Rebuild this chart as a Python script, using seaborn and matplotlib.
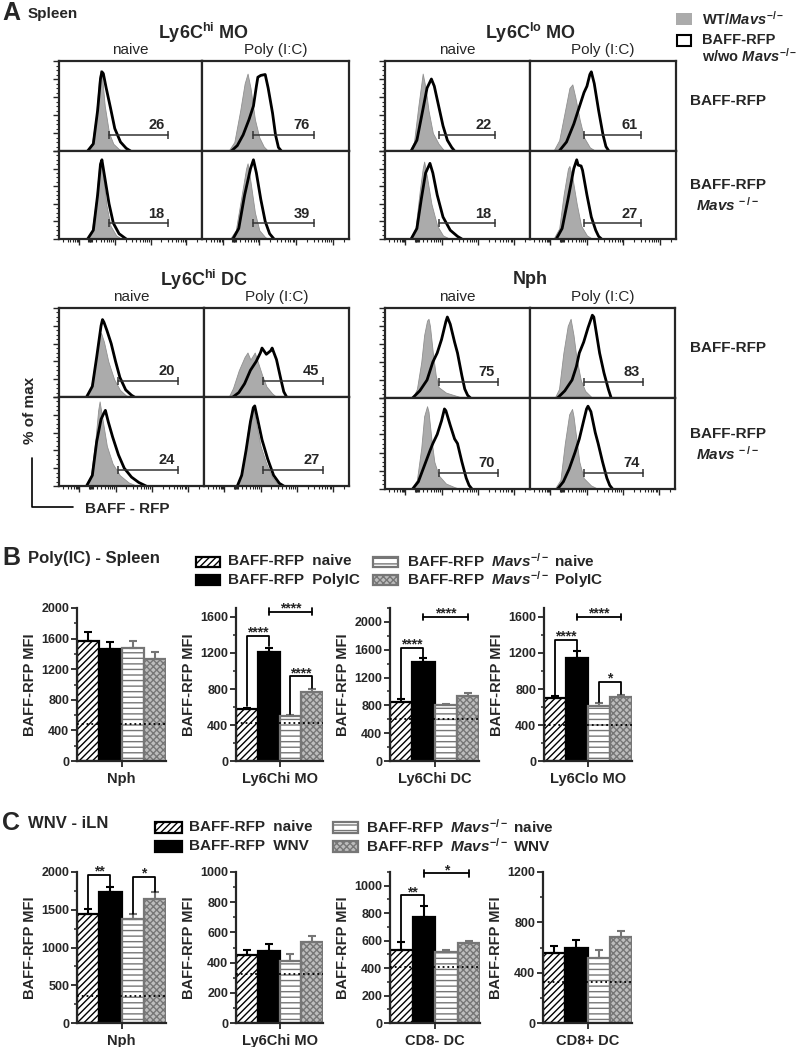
import numpy as np
import pandas as pd
import seaborn as sns
import matplotlib.pyplot as plt
from matplotlib.patches import Rectangle
from matplotlib.ticker import MultipleLocator

sns.set_style('ticks')
plt.rcParams['font.family'] = ['Liberation Sans', 'DejaVu Sans']
plt.rcParams['font.weight'] = 'bold'
plt.rcParams['axes.labelweight'] = 'bold'
plt.rcParams['mathtext.fontset'] = 'custom'
plt.rcParams['mathtext.rm'] = 'Liberation Sans:bold'
plt.rcParams['mathtext.it'] = 'Liberation Sans:italic:bold'
plt.rcParams['mathtext.bf'] = 'Liberation Sans:bold'
plt.rcParams['hatch.linewidth'] = 1.0

# ---------------- panel A: histogram outlines (x %, y % of max) ----------------
# order in each list: BAFF-RFP naive, BAFF-RFP Poly(I:C), Mavs-/- naive, Mavs-/- Poly(I:C)
HI_MO_GRAY = [
    [(19, 0), (23, 8), (26, 40), (28, 80), (29, 90), (30, 85), (32, 50), (35, 20), (38, 8), (42, 2), (45, 0)],
    [(18, 0), (22, 10), (26, 45), (29, 75), (31, 86), (33, 70), (36, 35), (39, 15), (42, 5), (45, 0)],
    [(19, 0), (23, 10), (26, 45), (28, 82), (29, 90), (31, 70), (33, 40), (36, 15), (40, 4), (44, 0)],
    [(19, 0), (23, 10), (27, 50), (30, 80), (31, 86), (33, 65), (36, 30), (39, 10), (43, 2), (46, 0)],
]
HI_MO_LINE = [
    [(20, 0), (24, 8), (27, 45), (29, 80), (30, 88), (31, 86), (33, 70), (36, 48), (39, 25), (43, 10), (47, 3), (50, 0)],
    [(20, 0), (24, 6), (28, 18), (32, 35), (35, 50), (37, 72), (38, 82), (40, 84), (43, 85), (45, 70), (48, 42), (50, 18), (52, 4), (54, 0)],
    [(20, 0), (24, 10), (27, 50), (29, 85), (30, 90), (32, 70), (35, 40), (38, 18), (42, 6), (47, 0)],
    [(21, 0), (25, 12), (29, 50), (33, 80), (35, 90), (37, 75), (40, 45), (43, 20), (46, 6), (49, 0)],
]
HI_MO_PCT = [26, 76, 18, 39]

LO_MO_GRAY = [
    [(17, 0), (20, 10), (23, 50), (26, 86), (28, 70), (30, 45), (33, 20), (37, 8), (41, 0)],
    [(16, 0), (20, 12), (24, 45), (27, 70), (29, 74), (31, 60), (34, 35), (37, 15), (41, 4), (45, 0)],
    [(17, 0), (21, 12), (24, 55), (26, 80), (27, 88), (29, 70), (32, 40), (36, 15), (40, 4), (45, 0)],
    [(16, 0), (20, 12), (23, 50), (26, 80), (27, 83), (29, 70), (32, 40), (35, 15), (39, 4), (43, 0)],
]
LO_MO_LINE = [
    [(18, 0), (22, 12), (26, 45), (29, 70), (32, 80), (34, 72), (37, 50), (40, 28), (43, 12), (46, 4), (48, 0)],
    [(20, 0), (25, 10), (30, 30), (34, 50), (37, 65), (39, 72), (41, 85), (42, 88), (44, 75), (47, 45), (50, 18), (52, 5), (54, 0)],
    [(18, 0), (22, 12), (25, 45), (28, 75), (31, 86), (33, 75), (36, 50), (40, 25), (45, 10), (50, 3), (53, 0)],
    [(18, 0), (22, 12), (26, 45), (30, 80), (32, 90), (33, 84), (35, 83), (36, 78), (39, 50), (42, 25), (45, 10), (47, 3), (49, 0)],
]
LO_MO_PCT = [22, 61, 18, 27]

HI_DC_GRAY = [
    [(18, 0), (22, 10), (25, 40), (28, 68), (29, 72), (31, 62), (34, 40), (38, 20), (42, 8), (46, 2), (49, 0)],
    [(17, 0), (20, 10), (24, 30), (28, 45), (30, 50), (32, 42), (35, 50), (37, 40), (40, 25), (43, 12), (47, 4), (50, 0)],
    [(18, 0), (22, 12), (25, 50), (27, 85), (28, 95), (30, 75), (33, 45), (37, 25), (42, 12), (48, 4), (54, 0)],
    [(22, 0), (25, 10), (28, 35), (31, 70), (33, 85), (34, 88), (36, 70), (39, 45), (43, 25), (47, 10), (52, 0)],
]
HI_DC_LINE = [
    [(19, 0), (23, 12), (26, 45), (29, 80), (30, 87), (31, 84), (33, 75), (36, 60), (39, 40), (42, 22), (46, 8), (50, 2), (52, 0)],
    [(20, 0), (24, 5), (28, 15), (32, 30), (36, 40), (39, 50), (40, 55), (43, 48), (46, 52), (47, 55), (50, 42), (53, 20), (55, 6), (57, 0)],
    [(19, 0), (23, 12), (26, 50), (29, 75), (31, 82), (32, 85), (34, 72), (37, 55), (41, 35), (45, 20), (50, 10), (55, 4), (60, 0)],
    [(23, 0), (26, 12), (29, 40), (32, 72), (34, 88), (35, 90), (37, 75), (40, 52), (44, 30), (48, 12), (52, 3), (55, 0)],
]
HI_DC_PCT = [20, 45, 24, 27]

NPH_GRAY = [
    [(19, 0), (22, 10), (25, 40), (27, 70), (29, 86), (30, 88), (31, 80), (33, 50), (35, 25), (37, 12), (42, 6), (48, 3), (54, 0)],
    [(17, 0), (20, 10), (23, 50), (26, 80), (28, 88), (30, 70), (32, 45), (35, 20), (38, 8), (43, 0)],
    [(18, 0), (22, 10), (25, 45), (27, 80), (29, 91), (30, 85), (32, 55), (34, 30), (37, 15), (42, 6), (48, 2), (52, 0)],
    [(17, 0), (21, 10), (24, 50), (27, 82), (29, 88), (30, 80), (32, 55), (34, 30), (37, 12), (42, 4), (47, 0)],
]
NPH_LINE = [
    [(19, 0), (24, 8), (29, 20), (33, 40), (36, 50), (39, 65), (42, 85), (43, 90), (45, 82), (48, 62), (50, 50), (53, 25), (55, 10), (57, 3), (59, 0)],
    [(19, 0), (24, 8), (29, 20), (32, 35), (34, 50), (37, 62), (40, 78), (43, 92), (44, 90), (46, 70), (48, 50), (51, 28), (54, 10), (56, 0)],
    [(19, 0), (23, 8), (27, 25), (31, 42), (33, 50), (36, 60), (39, 75), (41, 88), (42, 86), (45, 70), (48, 55), (50, 50), (53, 30), (56, 12), (58, 4), (60, 0)],
    [(19, 0), (23, 8), (27, 22), (31, 40), (34, 55), (37, 75), (39, 88), (40, 91), (42, 85), (45, 62), (47, 50), (50, 30), (53, 12), (55, 4), (57, 0)],
]
NPH_PCT = [75, 83, 70, 74]

GATE_START = [35, 37, 41, 37]
GATE_END = [76, 76, 82, 78]
BLOCK_TITLES = [r'Ly6C$^{\mathrm{hi}}$ MO', r'Ly6C$^{\mathrm{lo}}$ MO', r'Ly6C$^{\mathrm{hi}}$ DC', 'Nph']

# ---------------- panel B / C: MFI bars ----------------
GROUPS = ['naive', 'treated', 'Mavs naive', 'Mavs treated']

B_CELLS = ['Nph', 'Ly6Chi MO', 'Ly6Chi DC', 'Ly6Clo MO']
B_MEANS = [[1570, 1465, 1475, 1335], [575, 1215, 500, 765], [855, 1420, 800, 930], [700, 1150, 610, 715]]
B_ERRS = [[115, 90, 95, 90], [15, 45, 15, 30], [30, 55, 20, 50], [20, 70, 30, 15]]
B_BASE = [480, 425, 600, 400]
B_SIGS = [
    [],
    [(0, 1, 1390, 610, 1280, '****'), (1, 3, 1660, None, None, '****'), (2, 3, 940, 525, 810, '****')],
    [(0, 1, 1630, 900, 1490, '****'), (1, 3, 2070, None, None, '****')],
    [(0, 1, 1350, 735, 1235, '****'), (1, 3, 1600, None, None, '****'), (2, 3, 880, 655, 745, '*')],
]

C_CELLS = ['Nph', 'Ly6Chi MO', 'CD8- DC', 'CD8+ DC']
C_MEANS = [[1440, 1735, 1375, 1640], [450, 480, 410, 535], [530, 775, 515, 580], [555, 595, 515, 680]]
C_ERRS = [[70, 65, 65, 95], [35, 40, 45, 40], [60, 75, 20, 15], [55, 65, 65, 50]]
C_BASE = [358, 322, 405, 325]
C_SIGS = [
    [(0, 1, 1960, 1515, 1805, '**'), (2, 3, 1935, 1450, 1740, '*')],
    [],
    [(0, 1, 930, 595, 855, '**'), (1, 3, 1090, None, None, '*')],
    [],
]

BAR_FACE = ['white', 'black', 'white', '#bdbdbd']
BAR_EDGE = ['black', 'black', '#767676', '#767676']
BAR_HATCH = ['/////', None, '---', 'xxxxx']

W, H = 800, 1047
fig = plt.figure(figsize=(8, 10.47), dpi=100)
ov = fig.add_axes([0, 0, 1, 1])
ov.set_xlim(0, W)
ov.set_ylim(H, 0)
ov.axis('off')


def px_axes(l, t, r, b):
    return fig.add_axes([l / W, 1 - b / H, (r - l) / W, (b - t) / H])


def draw_hist(ax, gray, line, pct, g0, g1, left, bottom):
    gx = [p[0] for p in gray]
    gy = [p[1] for p in gray]
    ax.fill_between(gx, gy, color='#ababab', edgecolor='#909090', lw=0.6)
    lx = [p[0] for p in line]
    ly = [p[1] for p in line]
    sns.lineplot(x=lx, y=ly, ax=ax, color='black', lw=2.0, sort=False, estimator=None)
    ax.plot([g0, g1], [18, 18], color='#333333', lw=1.1, marker='|', ms=6, mew=1.1)
    ax.text(g1 - 8, 21, str(pct), ha='center', va='bottom', fontsize=10.5)
    ax.set_xlim(0, 100)
    ax.set_ylim(0, 100)
    for s in ax.spines.values():
        s.set_visible(True)
        s.set_linewidth(1.6)
    if left:
        ax.set_yticks(np.arange(0, 101, 20))
        ax.yaxis.set_minor_locator(MultipleLocator(5))
        ax.tick_params(axis='y', which='major', length=4, width=1, direction='out', labelleft=False)
        ax.tick_params(axis='y', which='minor', length=2, width=0.8, direction='out')
    else:
        ax.set_yticks([])
    if bottom:
        majors = [14, 39, 64, 89]
        minors = [3, 6, 8, 10, 11.5, 12.5, 13.3, 20.5, 21.2, 21.9, 22.6, 23.3]
        for a, b in [(14, 39), (39, 64), (64, 89), (89, 114)]:
            minors += [a + (b - a) * np.log10(k) for k in range(2, 10) if a + (b - a) * np.log10(k) < 100]
        ax.set_xticks(majors)
        ax.set_xticks(minors, minor=True)
        ax.tick_params(axis='x', which='major', length=4, width=1, direction='out', labelbottom=False)
        ax.tick_params(axis='x', which='minor', length=2.2, width=0.8, direction='out')
    else:
        ax.set_xticks([])
    ax.set_xlabel('')
    ax.set_ylabel('')


blocks = [
    ((59, 202, 349, 61, 151, 239), HI_MO_GRAY, HI_MO_LINE, HI_MO_PCT),
    ((385, 530, 676, 61, 151, 239), LO_MO_GRAY, LO_MO_LINE, LO_MO_PCT),
    ((59, 204, 349, 308, 397, 486), HI_DC_GRAY, HI_DC_LINE, HI_DC_PCT),
    ((385, 530, 675, 308, 398, 489), NPH_GRAY, NPH_LINE, NPH_PCT),
]
for bi, (box, grays, lines, pcts) in enumerate(blocks):
    x0, xm, x1, y0, ym, y1 = box
    for k in range(4):
        row, col = k // 2, k % 2
        l, r = (x0, xm) if col == 0 else (xm, x1)
        t, b = (y0, ym) if row == 0 else (ym, y1)
        ax = px_axes(l, t, r, b)
        draw_hist(ax, grays[k], lines[k], pcts[k], GATE_START[bi], GATE_END[bi], col == 0, row == 1)
    ov.text((x0 + x1) / 2, y0 - 28, BLOCK_TITLES[bi], ha='center', va='center', fontsize=13)
    ov.text((x0 + xm) / 2, y0 - 11, 'naive', ha='center', va='center', fontsize=11, fontweight='normal')
    ov.text((xm + x1) / 2, y0 - 11, 'Poly (I:C)', ha='center', va='center', fontsize=11, fontweight='normal')
    if bi in (1, 3):
        ov.text(728, (y0 + ym) / 2 - 5, 'BAFF-RFP', ha='center', va='center', fontsize=11)
        ov.text(728, (ym + y1) / 2 - 10, 'BAFF-RFP', ha='center', va='center', fontsize=11)
        ov.text(728, (ym + y1) / 2 + 10, r'$\mathit{Mavs}^{\,-/-}$', ha='center', va='center', fontsize=11)

ov.text(2, 13, 'A', ha='left', va='center', fontsize=18)
ov.text(28, 14, 'Spleen', ha='left', va='center', fontsize=11)
ov.add_patch(Rectangle((676, 13), 16, 12, facecolor='#ababab', edgecolor='none'))
ov.text(702, 19, r'WT/$\mathit{Mavs}^{-/-}$', ha='left', va='center', fontsize=10.5)
ov.add_patch(Rectangle((677, 35), 14, 11, facecolor='white', edgecolor='black', lw=1.5))
ov.text(702, 40, 'BAFF-RFP', ha='left', va='center', fontsize=10.5)
ov.text(702, 56, r'w/wo $\mathit{Mavs}^{-/-}$', ha='left', va='center', fontsize=10.5)
ov.text(30, 410, '% of max', ha='center', va='center', rotation=90, fontsize=11)
ov.plot([32, 32, 73], [458, 507, 507], color='black', lw=1.2)
ov.text(85, 509, 'BAFF - RFP', ha='left', va='center', fontsize=11)


def draw_bars(ax, cell, means, errs, base, sigs, ymax, step, minor):
    df = pd.DataFrame({'cell': [cell] * 4, 'group': GROUPS, 'mfi': means})
    sns.barplot(data=df, x='cell', y='mfi', hue='group', hue_order=GROUPS, ax=ax, width=0.8,
                errorbar=None, legend=False, saturation=1, palette=BAR_FACE)
    centers = []
    for i, p in enumerate(ax.patches[:4]):
        p.set_facecolor(BAR_FACE[i])
        p.set_edgecolor(BAR_EDGE[i])
        p.set_linewidth(1.6)
        if BAR_HATCH[i]:
            p.set_hatch(BAR_HATCH[i])
        cx = p.get_x() + p.get_width() / 2
        centers.append(cx)
        ax.errorbar([cx], [means[i]], yerr=[[0], [errs[i]]], color=BAR_EDGE[i], lw=1.5,
                    capsize=3, capthick=1.5, zorder=4)
    ax.axhline(base, ls=':', color='black', lw=1.3, zorder=5)
    for i, j, y, lo_i, lo_j, txt in sigs:
        xi, xj = centers[i], centers[j]
        if lo_i is None:
            h = ymax * 0.022
            ax.plot([xi, xj], [y, y], color='black', lw=1.3, clip_on=False, zorder=6)
            ax.plot([xi, xi], [y - h, y + h], color='black', lw=1.3, clip_on=False, zorder=6)
            ax.plot([xj, xj], [y - h, y + h], color='black', lw=1.3, clip_on=False, zorder=6)
        else:
            ax.plot([xi, xi, xj, xj], [lo_i, y, y, lo_j], color='black', lw=1.3, clip_on=False, zorder=6)
        ax.annotate(txt, ((xi + xj) / 2, y), xytext=(0, -0.5), textcoords='offset points',
                    ha='center', va='baseline', fontsize=10, annotation_clip=False)
    ax.set_xlim(-0.4, 0.4)
    ax.set_ylim(0, ymax)
    ax.set_yticks(np.arange(0, ymax + 1, step))
    ax.yaxis.set_minor_locator(MultipleLocator(minor))
    ax.set_xticks([0])
    ax.set_xticklabels([cell])
    ax.tick_params(axis='y', which='major', length=4, width=1.3, labelsize=9, pad=1.5)
    ax.tick_params(axis='y', which='minor', length=2.5, width=1.1)
    ax.tick_params(axis='x', length=4, width=1.3, labelsize=10.5, pad=4)
    ax.set_xlabel('')
    ax.set_ylabel('BAFF-RFP MFI', fontsize=10.5, labelpad=3)
    sns.despine(ax=ax)
    ax.spines['left'].set_linewidth(1.6)
    ax.spines['bottom'].set_linewidth(1.6)
    ax.patch.set_alpha(0)


B_X = [(77, 166), (236, 323), (390, 479), (544, 632)]
B_YMAX = [2000, 1700, 2200, 1700]
for k in range(4):
    ax = px_axes(B_X[k][0], 608, B_X[k][1], 761)
    draw_bars(ax, B_CELLS[k], B_MEANS[k], B_ERRS[k], B_BASE[k], B_SIGS[k], B_YMAX[k], 400, 200)

C_X = [(77, 166), (236, 323), (390, 480), (543, 632)]
C_YMAX = [2000, 1000, 1100, 1200]
C_STEP = [500, 200, 200, 400]
C_MINOR = [250, 100, 100, 200]
for k in range(4):
    ax = px_axes(C_X[k][0], 872, C_X[k][1], 1023)
    draw_bars(ax, C_CELLS[k], C_MEANS[k], C_ERRS[k], C_BASE[k], C_SIGS[k], C_YMAX[k], C_STEP[k], C_MINOR[k])


def swatch(x, y, w, h, i):
    ov.add_patch(Rectangle((x, y), w, h, facecolor=BAR_FACE[i], edgecolor=BAR_EDGE[i],
                           lw=1.6, hatch=BAR_HATCH[i]))


ov.text(2, 558, 'B', ha='left', va='center', fontsize=18)
ov.text(28, 559, 'Poly(IC) - Spleen', ha='left', va='center', fontsize=12)
swatch(196, 557, 24, 10, 0)
swatch(196, 575, 24, 10, 1)
swatch(373, 557, 25, 10, 2)
swatch(373, 575, 25, 10, 3)
ov.text(228, 561, 'BAFF-RFP  naive', ha='left', va='center', fontsize=11)
ov.text(228, 580, 'BAFF-RFP  PolyIC', ha='left', va='center', fontsize=11)
ov.text(407, 561, r'BAFF-RFP  $\mathit{Mavs}^{-/-}$ naive', ha='left', va='center', fontsize=11)
ov.text(407, 580, r'BAFF-RFP  $\mathit{Mavs}^{-/-}$ PolyIC', ha='left', va='center', fontsize=11)

ov.text(2, 823, 'C', ha='left', va='center', fontsize=18)
ov.text(28, 823, 'WNV - iLN', ha='left', va='center', fontsize=12)
swatch(155, 822, 27, 11, 0)
swatch(155, 841, 27, 11, 1)
swatch(333, 822, 25, 11, 2)
swatch(333, 841, 25, 11, 3)
ov.text(189, 827, 'BAFF-RFP  naive', ha='left', va='center', fontsize=11)
ov.text(189, 846, 'BAFF-RFP  WNV', ha='left', va='center', fontsize=11)
ov.text(366, 827, r'BAFF-RFP  $\mathit{Mavs}^{-/-}$ naive', ha='left', va='center', fontsize=11)
ov.text(366, 846, r'BAFF-RFP  $\mathit{Mavs}^{-/-}$ WNV', ha='left', va='center', fontsize=11)

fig.savefig('out.png', dpi=100)
